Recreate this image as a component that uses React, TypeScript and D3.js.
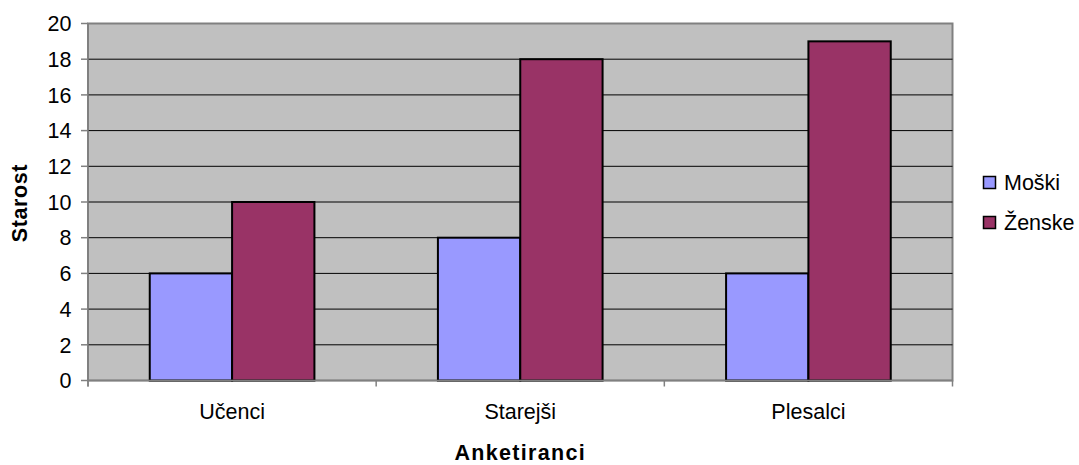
import React from "react";
import * as d3 from "d3";

const categories = ["Učenci", "Starejši", "Plesalci"];
const seriesNames = ["Moški", "Ženske"];
const moski = [6, 8, 6];
const zenske = [10, 18, 19];
const yTicks = [0, 2, 4, 6, 8, 10, 12, 14, 16, 18, 20];
const colors = ["#9999FF", "#993366"];

export default function App() {
  const W = 1079, H = 465;
  const left = 88, right = 952.5, top = 23.5, bottom = 380.5;
  const x = d3.scaleBand().domain(categories).range([left, right]).paddingInner(0).paddingOuter(0);
  const y = d3.scaleLinear().domain([0, 20]).range([bottom, top]);
  const values = [moski, zenske];
  const bw = x.bandwidth() / 3.5;
  const font = "'Liberation Sans', Arial, sans-serif";
  const fs = 21.5;
  return (
    <svg width={W} height={H} style={{ position: "absolute", left: 0, top: 0 }} fontFamily={font}>
      <rect x={0} y={0} width={W} height={H} fill="#fff" />
      <rect x={left} y={top} width={right - left} height={bottom - top} fill="#C0C0C0" stroke="#808080" strokeWidth={2} />
      {yTicks.filter(t => t > 0 && t < 20).map(t => (
        <line key={t} x1={left} x2={right} y1={y(t)} y2={y(t)} stroke="#000" strokeWidth={1} />
      ))}
      {categories.map((c, ci) =>
        values.map((vals, si) => {
          const x0 = (x(c) as number) + x.bandwidth() / 2 - bw + si * bw;
          return (
            <rect key={c + si} x={x0} y={y(vals[ci])} width={bw} height={y(0) - y(vals[ci])}
              fill={colors[si]} stroke="#000" strokeWidth={2} />
          );
        })
      )}
      <line x1={left} x2={left} y1={top} y2={bottom + 6} stroke="#808080" strokeWidth={1.5} />
      <line x1={left} x2={right} y1={bottom} y2={bottom} stroke="#808080" strokeWidth={1.5} />
      {yTicks.map(t => (
        <g key={t}>
          <line x1={left - 7} x2={left} y1={y(t)} y2={y(t)} stroke="#808080" strokeWidth={1.5} />
          <text x={71.5} y={y(t)} dy="0.36em" textAnchor="end" fontSize={fs} fill="#000">{t}</text>
        </g>
      ))}
      {d3.range(categories.length + 1).map(i => {
        const xx = left + i * x.step();
        return <line key={i} x1={xx} x2={xx} y1={bottom} y2={bottom + 6} stroke="#808080" strokeWidth={1.5} />;
      })}
      {categories.map(c => (
        <text key={c} x={(x(c) as number) + x.bandwidth() / 2} y={419} textAnchor="middle" fontSize={fs} fill="#000">{c}</text>
      ))}
      <text x={(left + right) / 2} y={460} textAnchor="middle" fontSize={fs} fontWeight="bold" letterSpacing={1.3} fill="#000">Anketiranci</text>
      <text transform={`translate(27,203) rotate(-90)`} textAnchor="middle" fontSize={fs} fontWeight="bold" letterSpacing={0.6} fill="#000">Starost</text>
      {seriesNames.map((s, i) => {
        const cy = 182.5 + i * 40;
        return (
          <g key={s}>
            <rect x={983.5} y={cy - 6} width={12} height={12} fill={colors[i]} stroke="#000" strokeWidth={1.5} />
            <text x={1004} y={cy} dy="0.36em" fontSize={fs} fill="#000">{s}</text>
          </g>
        );
      })}
    </svg>
  );
}
